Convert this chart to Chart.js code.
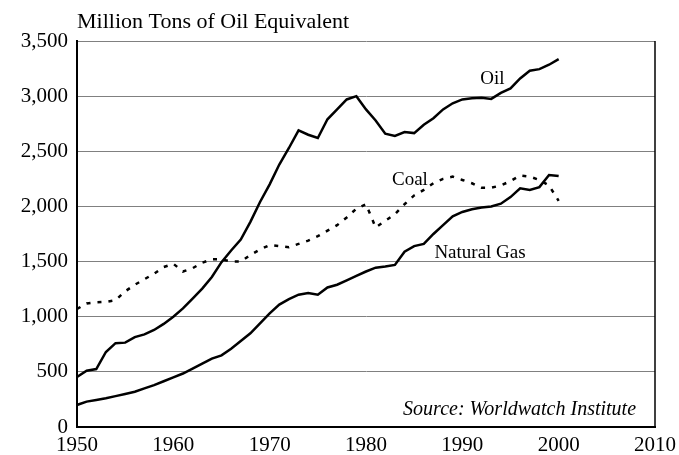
<!DOCTYPE html>
<html>
<head>
<meta charset="utf-8">
<script src="https://cdn.jsdelivr.net/npm/chart.js@4.4.1/dist/chart.umd.min.js"></script>
<style>
html,body{margin:0;padding:0;background:#fff;}
#wrap{width:679px;height:455px;}
</style>
</head>
<body>
<div id="wrap"><canvas id="c" width="679" height="455"></canvas></div>
<script>
const years = [];
for (let y = 1950; y <= 2000; y++) years.push(y);

const oil = [454,510,525,680,760,765,815,840,880,935,
  1000,1075,1165,1255,1360,1495,1600,1700,1860,2040,
  2200,2380,2530,2690,2650,2620,2790,2880,2970,3000,
  2880,2780,2660,2640,2675,2665,2740,2800,2880,2935,
  2970,2980,2985,2975,3030,3070,3160,3230,3245,3285,3335];

const coal = [1070,1120,1130,1135,1150,1230,1290,1340,1390,1450,
  1480,1410,1440,1490,1520,1520,1500,1500,1560,1610,
  1650,1640,1630,1660,1690,1730,1780,1830,1900,1980,
  2020,1810,1870,1930,2020,2100,2150,2210,2250,2270,
  2240,2210,2170,2170,2190,2230,2280,2270,2240,2190,2050];

const gas = [200,230,245,260,280,300,320,350,380,415,
  450,485,530,575,620,650,710,780,850,940,
  1030,1110,1160,1200,1215,1200,1265,1290,1330,1370,
  1410,1445,1455,1470,1590,1640,1660,1750,1830,1910,
  1950,1975,1990,2000,2025,2085,2165,2150,2175,2285,2275];

const xTicks = [1950,1960,1970,1980,1990,2000,2010];
const yTicks = [0,500,1000,1500,2000,2500,3000,3500];

const titleText = "Million Tons of Oil Equivalent";
const labels = [
  {text:"Oil", x:1991.85, y:3110, italic:false},
  {text:"Coal", x:1982.7, y:2193, italic:false},
  {text:"Natural Gas", x:1987.1, y:1531, italic:false},
  {text:"Source: Worldwatch Institute", x:1983.85, y:106, italic:true}
];

const FONT = "'Liberation Serif', 'Times New Roman', serif";

const toXY = arr => arr.map((v,i)=>({x:years[i], y:v}));

const decor = {
  id:'decor',
  afterDraw(chart){
    const ctx = chart.ctx, a = chart.chartArea;
    const xs = chart.scales.x, ys = chart.scales.y;
    ctx.save();
    ctx.strokeStyle = '#000';
    ctx.lineWidth = 1.5;
    ctx.beginPath();
    ctx.moveTo(a.right, a.top);
    ctx.lineTo(a.right, a.bottom);
    ctx.stroke();
    ctx.fillStyle = '#000';
    ctx.textBaseline = 'alphabetic';
    ctx.textAlign = 'left';
    ctx.font = "22px " + FONT;
    ctx.fillText(titleText, a.left, 28);
    labels.forEach(l=>{
      ctx.font = (l.italic ? "italic 20px " : "19px ") + FONT;
      ctx.fillText(l.text, xs.getPixelForValue(l.x), ys.getPixelForValue(l.y));
    });
    ctx.restore();
  }
};

new Chart(document.getElementById('c'), {
  type:'line',
  data:{
    datasets:[
      {label:'Oil', data:toXY(oil), borderColor:'#000', borderWidth:2.5, pointRadius:0, tension:0, fill:false},
      {label:'Coal', data:toXY(coal), borderColor:'#000', borderWidth:2.5, borderDash:[4,7], pointRadius:0, tension:0, fill:false},
      {label:'Natural Gas', data:toXY(gas), borderColor:'#000', borderWidth:2.5, pointRadius:0, tension:0, fill:false}
    ]
  },
  options:{
    responsive:false,
    animation:false,
    events:[],
    layout:{padding:{top:41, right:24, left:0, bottom:0}},
    plugins:{legend:{display:false}, tooltip:{enabled:false}, title:{display:false}},
    scales:{
      x:{
        type:'linear', min:1950, max:2010,
        afterBuildTicks(s){ s.ticks = xTicks.map(v=>({value:v})); },
        afterFit(s){ s.height = 28; s.paddingLeft = 0; s.paddingRight = 0; },
        grid:{display:false, drawTicks:false},
        border:{display:true, color:'#000', width:2},
        ticks:{color:'#000', font:{family:FONT, size:21}, padding:6, maxRotation:0, autoSkip:false,
          callback:v=>String(v)}
      },
      y:{
        min:0, max:3500,
        afterBuildTicks(s){ s.ticks = yTicks.map(v=>({value:v})); },
        afterFit(s){ s.width = 77; s.paddingTop = 0; s.paddingBottom = 0; },
        grid:{color:'#808080', lineWidth:1, drawTicks:false},
        border:{display:true, color:'#000', width:2},
        ticks:{color:'#000', font:{family:FONT, size:21}, padding:9,
          callback:v=>v.toLocaleString('en-US')}
      }
    }
  },
  plugins:[decor]
});
</script>
</body>
</html>
